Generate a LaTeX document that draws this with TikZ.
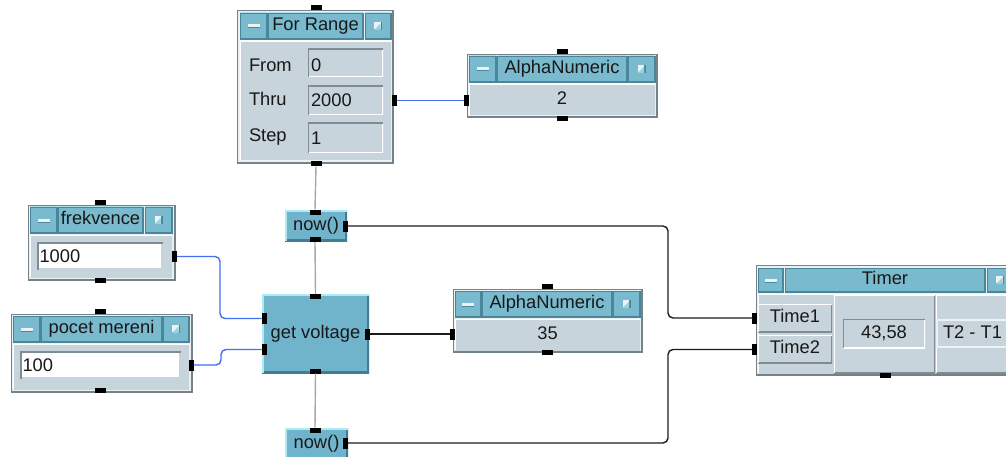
\documentclass[tikz,border=0pt]{standalone}
\usepackage{fontspec}
\setmainfont{Liberation Sans}

\definecolor{titleblue}{RGB}{122,186,206}
\definecolor{titlehi}{RGB}{178,224,236}
\definecolor{titlelo}{RGB}{74,134,154}
\definecolor{bodygray}{RGB}{200,212,220}
\definecolor{framehi}{RGB}{236,242,244}
\definecolor{framelo}{RGB}{118,130,138}
\definecolor{fieldlo}{RGB}{128,140,148}
\definecolor{devfill}{RGB}{112,180,204}
\definecolor{devhi}{RGB}{172,234,246}
\definecolor{devlo}{RGB}{66,126,146}
\definecolor{wireblue}{RGB}{64,112,240}
\definecolor{wiregray}{RGB}{168,168,168}
\definecolor{wireblack}{RGB}{28,28,28}
\definecolor{inkc}{RGB}{24,24,24}

% rectangle node given by its corners: name, style, x1, y1, x2, y2, text
\newcommand\vcell[7]{%
  \node[#2, minimum width={(#5-#3)*1pt}, minimum height={(#6-#4)*1pt}] (#1)
    at ({(#3+#5)/2},{(#4+#6)/2}) {#7};}
% connector pin: name, x, y, h or v
\newcommand\vpin[4]{\node[pin#4] (#1) at (#2,#3) {};}
% 3D edge: light top-left, dark bottom-right
\newcommand\bevellines[3][2.6pt]{%
  \draw[line width=#1,#3] (path picture bounding box.north east) --
    (path picture bounding box.south east) -- (path picture bounding box.south west);
  \draw[line width=#1,#2] (path picture bounding box.south west) --
    (path picture bounding box.north west) -- (path picture bounding box.north east);}
\newcommand\minglyph{%
  \fill[framehi] ([shift={(-6,-1.5)}]path picture bounding box.center) rectangle ++(12,3);
  \draw[titlelo,line width=0.6pt] ([shift={(-6,1.8)}]path picture bounding box.center) -- ++(12,0);}
\newcommand\maxglyph{%
  \fill[titlelo] ([shift={(-4,-4)}]path picture bounding box.center) rectangle ++(8,8);
  \fill[framehi] ([shift={(-4,-4)}]path picture bounding box.center) rectangle ++(6.6,6.6);
  \fill[titlehi!60!titleblue] ([shift={(-4,4)}]path picture bounding box.center) -- ++(6.6,0) -- ++(0,-6.6) -- cycle;}

\begin{document}
\begin{tikzpicture}[x=1pt,y=-1pt,
  every node/.style={inner sep=0pt, outer sep=0pt, text=inkc,
    font=\fontsize{18.3}{20}\selectfont, text height=13pt, text depth=3.5pt},
  frame/.style={fill=framehi, draw=framelo, line width=0.8pt,
    path picture={\bevellines{white}{framelo}}},
  tcell/.style={fill=titleblue, draw=titlelo, line width=0.6pt,
    path picture={\bevellines[2pt]{titlehi}{titlelo}}},
  minbtn/.style={fill=titleblue, draw=titlelo, line width=0.6pt,
    path picture={\bevellines[2pt]{titlehi}{titlelo}\minglyph}},
  maxbtn/.style={fill=titleblue, draw=titlelo, line width=0.6pt,
    path picture={\bevellines[2pt]{titlehi}{titlelo}\maxglyph}},
  body/.style={fill=bodygray, path picture={\bevellines[2pt]{white}{bodygray}}},
  field/.style={fill=bodygray, path picture={\bevellines[2.6pt]{fieldlo}{white}}},
  inputfield/.style={fill=white, path picture={\bevellines[3.4pt]{fieldlo}{bodygray}}},
  raisedgray/.style={fill=bodygray, path picture={\bevellines[2.6pt]{white}{fieldlo}}},
  outlinefield/.style={fill=bodygray, draw=framehi, line width=1.4pt},
  device/.style={fill=devfill, path picture={\bevellines[4pt]{devhi}{devlo}}},
  lbl/.style={anchor=base west, text height=, text depth=},
  pinh/.style={fill=black, minimum width=11pt, minimum height=5pt, text height=0pt, text depth=0pt},
  pinv/.style={fill=black, minimum width=5pt, minimum height=11pt, text height=0pt, text depth=0pt},
  wire/.style={line width=1.4pt, rounded corners=5pt}]

\clip (0,0) rectangle (1006,457);
\fill[white] (0,0) rectangle (1006,457);

% ---- For Range ----
\vcell{fr}{frame}{237}{10}{393}{163}{}
\vcell{frmin}{minbtn}{240}{13}{267}{39}{}
\vcell{frtitle}{tcell}{268}{13}{363}{39}{For Range}
\vcell{frmax}{maxbtn}{365}{13}{391}{39}{}
\vcell{frbody}{body}{240}{41}{391}{160}{}
\node[lbl] (frfromlbl) at (249,72) {From};
\node[lbl] (frthrulbl) at (249,106) {Thru};
\node[lbl] (frsteplbl) at (249,142) {Step};
\vcell{frfrom}{field}{308}{49}{383}{77}{}
\vcell{frthru}{field}{308}{86}{383}{115}{}
\vcell{frstep}{field}{308}{123}{383}{153}{}
\node[lbl] (frfromval) at (311,71.5) {0};
\node[lbl] (frthruval) at (311,106.5) {2000};
\node[lbl] (frstepval) at (311,145) {1};
\vpin{frtop}{316}{8}{h}
\vpin{frbot}{316}{164}{h}
\vpin{frright}{394.5}{100.5}{v}

% ---- AlphaNumeric (loop counter) ----
\vcell{ana}{frame}{467}{54}{657}{117}{}
\vcell{anamin}{minbtn}{469}{56}{496}{82}{}
\vcell{anatitle}{tcell}{497}{56}{627}{82}{AlphaNumeric}
\vcell{anamax}{maxbtn}{628}{56}{655}{82}{}
\vcell{anabody}{body}{469}{84}{655}{115}{2}
\vpin{anatop}{562}{51.5}{h}
\vpin{anabot}{562}{119}{h}
\vpin{analeft}{466.5}{100.5}{v}

% ---- frekvence ----
\vcell{fk}{frame}{28}{205}{175}{280}{}
\vcell{fkmin}{minbtn}{30}{207}{57}{233}{}
\vcell{fktitle}{tcell}{58}{207}{143}{233}{frekvence}
\vcell{fkmax}{maxbtn}{145}{207}{172}{233}{}
\vcell{fkbody}{body}{30}{235}{172}{277}{}
\vcell{fkfield}{inputfield}{37}{242}{163}{270}{}
\node[lbl] (fkval) at (39.5,262.5) {1000};
\vpin{fktop}{100}{203}{h}
\vpin{fkbot}{100}{280.5}{h}
\vpin{fkright}{174.5}{256.5}{v}

% ---- pocet mereni ----
\vcell{pm}{frame}{11}{314}{192}{392}{}
\vcell{pmmin}{minbtn}{13}{316}{40}{342}{}
\vcell{pmtitle}{tcell}{41}{316}{162}{342}{pocet mereni}
\vcell{pmmax}{maxbtn}{163}{316}{189}{342}{}
\vcell{pmbody}{body}{13}{344}{189}{389}{}
\vcell{pmfield}{inputfield}{20}{351}{181}{379}{}
\node[lbl] (pmval) at (22.5,371) {100};
\vpin{pmtop}{100.5}{311}{h}
\vpin{pmbot}{100.5}{390}{h}
\vpin{pmright}{191}{365}{v}

% ---- now() / get voltage / now() ----
\vcell{nowa}{device}{285}{210}{347}{241}{now()}
\vpin{nowatop}{315}{212}{h}
\vpin{nowabot}{315}{239.5}{h}
\vpin{nowaright}{345.5}{226}{v}

\vcell{gv}{device}{262}{294}{369}{373}{get voltage}
\vpin{gvtop}{315.5}{296.5}{h}
\vpin{gvbot}{315.5}{371}{h}
\vpin{gvlefta}{264}{318.5}{v}
\vpin{gvleftb}{264}{349.5}{v}
\vpin{gvright}{367}{334}{v}

\vcell{nowb}{device}{285}{428}{348}{460}{now()}
\vpin{nowbtop}{315}{430}{h}
\vpin{nowbright}{345.5}{443}{v}

% ---- AlphaNumeric (voltage) ----
\vcell{anb}{frame}{453}{289}{642}{352}{}
\vcell{anbmin}{minbtn}{455}{291}{481}{317}{}
\vcell{anbtitle}{tcell}{482}{291}{612}{317}{AlphaNumeric}
\vcell{anbmax}{maxbtn}{613}{291}{640}{317}{}
\vcell{anbbody}{body}{455}{319}{640}{350}{35}
\vpin{anbtop}{547}{286}{h}
\vpin{anbbot}{547}{352.5}{h}
\vpin{anbleft}{452}{334}{v}

% ---- Timer ----
\vcell{tm}{frame}{756}{265}{1012}{375}{}
\vcell{tmmin}{minbtn}{758}{268}{783}{292}{}
\vcell{tmtitle}{tcell}{785}{268}{985}{292}{Timer}
\vcell{tmmax}{maxbtn}{987}{268}{1013}{292}{}
\vcell{tmbody}{body}{758}{294}{1012}{373}{}
\vcell{tmtone}{raisedgray}{758}{304}{832}{332}{Time1}
\vcell{tmttwo}{raisedgray}{758}{335}{832}{363}{Time2}
\vcell{tmmid}{raisedgray}{834}{295}{935}{373}{}
\vcell{tmval}{field}{843}{319}{925}{348}{43,58}
\vcell{tmright}{raisedgray}{936}{295}{1012}{373}{}
\vcell{tmdiff}{outlinefield}{937}{320}{1012}{347}{}
\node[lbl] (tmdifftxt) at (943,338.5) {T2 - T1};
\vpin{tmpina}{754.5}{318}{v}
\vpin{tmpinb}{754.5}{349.5}{v}
\vpin{tmbot}{885}{375}{h}

% ---- connectors ----
\coordinate (fkbend) at (220,256.5);
\coordinate (pmbend) at (221,365);
\coordinate (tmbenda) at (668,226);
\coordinate (tmbendb) at (668,443);

\draw[wire,wireblue] (frright.east) -- (analeft.west);
\draw[wire,wireblue] (fkright.east) -- (fkbend) |- (gvlefta.west);
\draw[wire,wireblue] (pmright.east) -- (pmbend) |- (gvleftb.west);
\draw[wire,wiregray] (frbot.south) -- (nowatop.north);
\draw[wire,wiregray] (nowabot.south) -- (gvtop.north);
\draw[wire,wiregray] (gvbot.south) -- (nowbtop.north);
\draw[wire,wireblack] (gvright.east) -- (anbleft.west);
\draw[wire,wireblack] (nowaright.east) -- (tmbenda) |- (tmpina.west);
\draw[wire,wireblack] (nowbright.east) -- (tmbendb) |- (tmpinb.west);
\end{tikzpicture}
\end{document}
